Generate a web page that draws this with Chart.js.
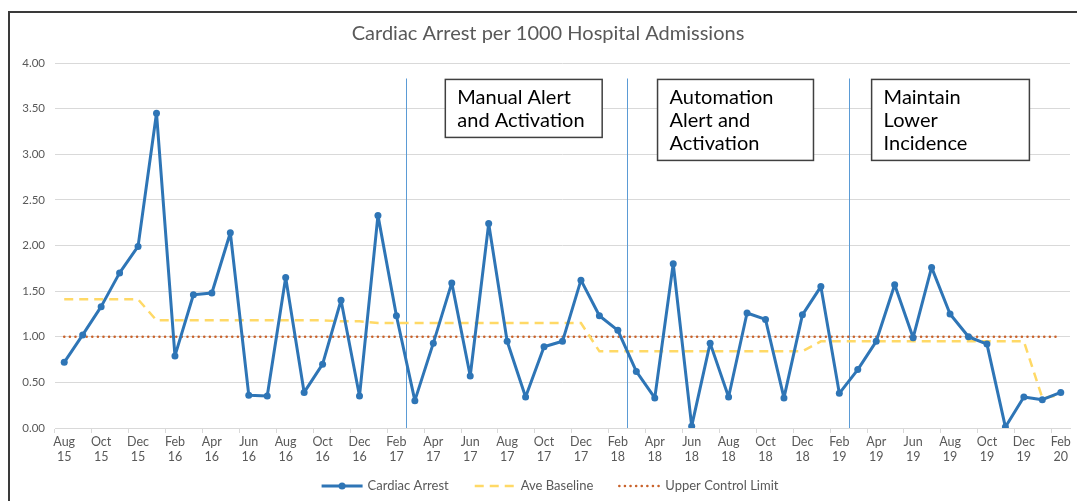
<!DOCTYPE html>
<html>
<head>
<meta charset="utf-8">
<script src="https://cdn.jsdelivr.net/npm/chart.js@4.4.1/dist/chart.umd.min.js"></script>
<style>
  html, body { margin: 0; padding: 0; background: #fff; }
  #wrap { position: relative; width: 1077px; height: 501px; overflow: hidden; }
  #frame { position: absolute; left: 8px; top: 11px; width: 1200px; height: 600px; border: 2px solid #3a3a3a; box-sizing: border-box; pointer-events: none; }
  canvas { position: absolute; left: 0; top: 0; }
</style>
</head>
<body>
<div id="wrap">
  <canvas id="chart" width="1077" height="501"></canvas>
  <div id="frame"></div>
</div>
<script>
const chartTitle = 'Cardiac Arrest per 1000 Hospital Admissions';

const monthLabels = [
  'Aug 15', 'Sep 15', 'Oct 15', 'Nov 15', 'Dec 15',
  'Jan 16', 'Feb 16', 'Mar 16', 'Apr 16', 'May 16', 'Jun 16', 'Jul 16', 'Aug 16', 'Sep 16', 'Oct 16', 'Nov 16', 'Dec 16',
  'Jan 17', 'Feb 17', 'Mar 17', 'Apr 17', 'May 17', 'Jun 17', 'Jul 17', 'Aug 17', 'Sep 17', 'Oct 17', 'Nov 17', 'Dec 17',
  'Jan 18', 'Feb 18', 'Mar 18', 'Apr 18', 'May 18', 'Jun 18', 'Jul 18', 'Aug 18', 'Sep 18', 'Oct 18', 'Nov 18', 'Dec 18',
  'Jan 19', 'Feb 19', 'Mar 19', 'Apr 19', 'May 19', 'Jun 19', 'Jul 19', 'Aug 19', 'Sep 19', 'Oct 19', 'Nov 19', 'Dec 19',
  'Jan 20', 'Feb 20'
];

const cardiacArrest = [
  0.72, 1.02, 1.33, 1.70, 1.99,
  3.45, 0.79, 1.46, 1.48, 2.14, 0.36, 0.35, 1.65, 0.39, 0.70, 1.40, 0.35,
  2.33, 1.23, 0.30, 0.93, 1.59, 0.57, 2.24, 0.95, 0.34, 0.89, 0.95, 1.62,
  1.23, 1.07, 0.62, 0.33, 1.80, 0.02, 0.93, 0.34, 1.26, 1.19, 0.33, 1.24,
  1.55, 0.38, 0.64, 0.95, 1.57, 0.99, 1.76, 1.25, 1.00, 0.92, 0.01, 0.34,
  0.31, 0.39
];

const aveBaseline = [
  1.41, 1.41, 1.41, 1.41, 1.41,
  1.18, 1.18, 1.18, 1.18, 1.18, 1.18, 1.18, 1.18, 1.18, 1.18, 1.17, 1.17,
  1.15, 1.15, 1.15, 1.15, 1.15, 1.15, 1.15, 1.15, 1.15, 1.15, 1.15, 1.15,
  0.84, 0.84, 0.84, 0.84, 0.84, 0.84, 0.84, 0.84, 0.84, 0.84, 0.84, 0.84,
  0.95, 0.95, 0.95, 0.95, 0.95, 0.95, 0.95, 0.95, 0.95, 0.95, 0.95, 0.95,
  0.33, 0.36
];

const upperControlLimit = monthLabels.map(() => 1.00);

// phase dividers sit between two months (category units)
const phaseDividers = [18.5, 30.5, 42.5];
const phaseNotes = [
  { from: 20.65, to: 29.15, lines: ['Manual Alert', 'and Activation'] },
  { from: 32.15, to: 40.6, lines: ['Automation', 'Alert and', 'Activation'] },
  { from: 43.75, to: 52.3, lines: ['Maintain', 'Lower', 'Incidence'] }
];

const FONT = 'Lato, "Open Sans", sans-serif';
const GREY = '#595959';

const decorations = {
  id: 'decorations',
  beforeDatasetsDraw(chart) {
    const { ctx, scales: { x, y } } = chart;
    ctx.save();
    ctx.strokeStyle = '#5B9BD5';
    ctx.lineWidth = 1;
    phaseDividers.forEach(v => {
      const px = Math.round(x.getPixelForValue(v)) + 0.5;
      ctx.beginPath();
      ctx.moveTo(px, y.getPixelForValue(3.83));
      ctx.lineTo(px, y.getPixelForValue(0));
      ctx.stroke();
    });
    ctx.restore();
  },
  afterDraw(chart) {
    const { ctx, scales: { x, y } } = chart;
    ctx.save();

    // title
    ctx.fillStyle = GREY;
    ctx.font = '20px ' + FONT;
    ctx.textAlign = 'center';
    ctx.textBaseline = 'middle';
    ctx.fillText(chartTitle, 548, 34);

    // phase notes
    phaseNotes.forEach(n => {
      const left = x.getPixelForValue(n.from);
      const right = x.getPixelForValue(n.to);
      const top = y.getPixelForValue(3.82);
      const h = 12 + n.lines.length * 23;
      ctx.fillStyle = '#fff';
      ctx.fillRect(left, top, right - left, h);
      ctx.strokeStyle = '#404040';
      ctx.lineWidth = 1.5;
      ctx.strokeRect(left, top, right - left, h);
      ctx.fillStyle = '#000';
      ctx.font = '20px ' + FONT;
      ctx.textAlign = 'left';
      ctx.textBaseline = 'middle';
      n.lines.forEach((t, i) => ctx.fillText(t, left + 12, top + 18 + i * 23));
    });

    // legend
    ctx.font = '13px ' + FONT;
    const items = chart.data.datasets.map(ds => ({ ds, w: 41 + 5 + ctx.measureText(ds.label).width }));
    const gap = 26;
    const total = items.reduce((s, it) => s + it.w, 0) + gap * (items.length - 1);
    let lx = 550 - total / 2;
    const ly = 486;
    items.forEach(({ ds, w }) => {
      ctx.save();
      ctx.strokeStyle = ds.borderColor;
      ctx.lineWidth = ds.borderWidth;
      ctx.lineCap = ds.borderCapStyle || 'butt';
      ctx.setLineDash(ds.borderDash || []);
      ctx.beginPath();
      ctx.moveTo(lx, ly);
      ctx.lineTo(lx + 41, ly);
      ctx.stroke();
      if (ds.pointRadius) {
        ctx.setLineDash([]);
        ctx.fillStyle = ds.borderColor;
        ctx.beginPath();
        ctx.arc(lx + 20.5, ly, ds.pointRadius, 0, Math.PI * 2);
        ctx.fill();
      }
      ctx.restore();
      ctx.fillStyle = GREY;
      ctx.textAlign = 'left';
      ctx.textBaseline = 'middle';
      ctx.fillText(ds.label, lx + 46, ly);
      lx += w + gap;
    });
    ctx.restore();
  }
};

new Chart(document.getElementById('chart'), {
  type: 'line',
  data: {
    labels: monthLabels,
    datasets: [
      {
        label: 'Cardiac Arrest',
        data: cardiacArrest,
        borderColor: '#2E75B6',
        backgroundColor: '#2E75B6',
        borderWidth: 3,
        borderJoinStyle: 'round',
        pointRadius: 3.5,
        pointBorderWidth: 0,
        pointBackgroundColor: '#2E75B6',
        tension: 0,
        order: 1
      },
      {
        label: 'Ave Baseline',
        data: aveBaseline,
        borderColor: '#FFD966',
        borderWidth: 2.5,
        borderDash: [9, 6],
        pointRadius: 0,
        tension: 0,
        order: 2
      },
      {
        label: 'Upper Control Limit',
        data: upperControlLimit,
        borderColor: '#C9632C',
        borderWidth: 2.5,
        borderDash: [0.1, 5.5],
        borderCapStyle: 'round',
        pointRadius: 0,
        tension: 0,
        order: 3
      }
    ]
  },
  options: {
    responsive: false,
    animation: false,
    events: [],
    layout: { padding: { top: 63, right: 7, bottom: 33, left: 0 } },
    plugins: {
      legend: { display: false },
      title: { display: false },
      tooltip: { enabled: false }
    },
    scales: {
      x: {
        offset: true,
        grid: {
          offset: true,
          drawOnChartArea: false,
          tickLength: 5,
          color: ctx => (ctx.index % 2 === 0 ? '#d9d9d9' : 'rgba(0,0,0,0)')
        },
        border: { color: '#d9d9d9' },
        ticks: {
          autoSkip: false,
          maxRotation: 0,
          padding: 1,
          color: GREY,
          font: { family: FONT, size: 12.5 },
          callback(v, i) { return i % 2 === 0 ? monthLabels[i].split(' ') : ''; }
        },
        afterFit(scale) { scale.height = 40; }
      },
      y: {
        min: 0,
        max: 4,
        ticks: {
          stepSize: 0.5,
          padding: 10,
          color: GREY,
          font: { family: FONT, size: 11.5 },
          callback: v => v.toFixed(2)
        },
        grid: { color: '#d9d9d9', drawTicks: false },
        border: { display: false },
        afterFit(scale) { scale.width = 55; }
      }
    }
  },
  plugins: [decorations]
});
</script>
</body>
</html>
